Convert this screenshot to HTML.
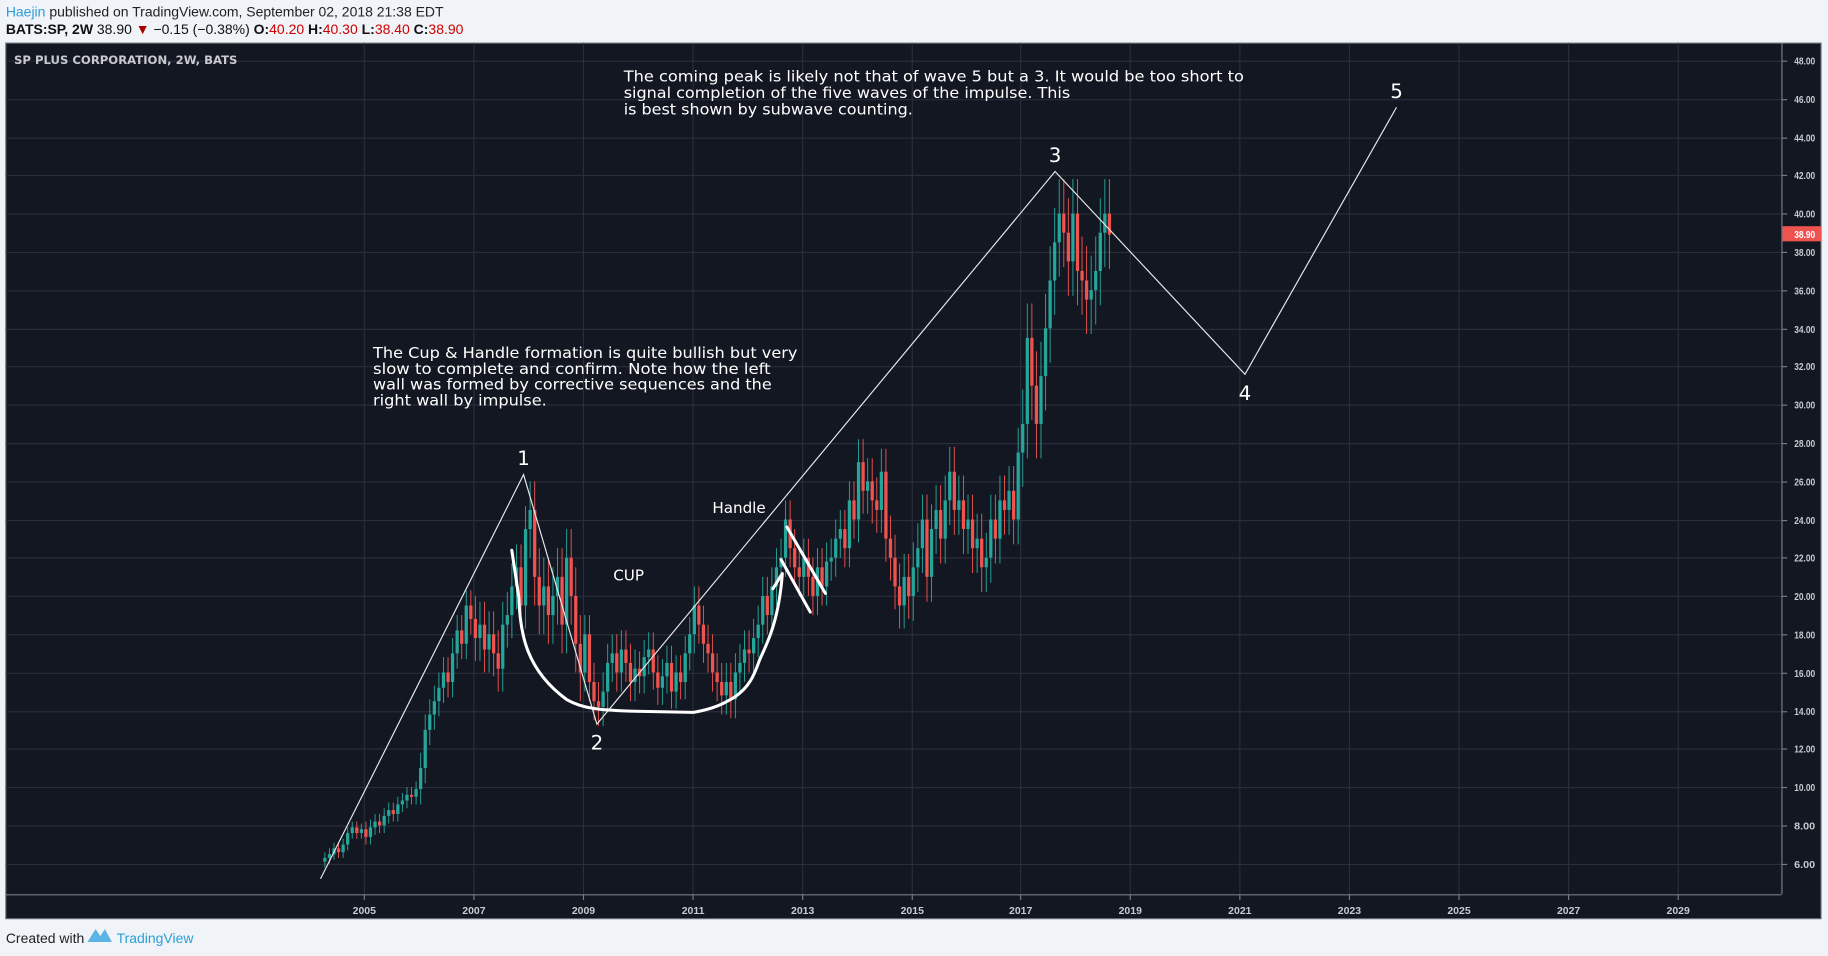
<!DOCTYPE html>
<html><head><meta charset="utf-8">
<style>
html,body{margin:0;padding:0;background:#f0f3f7;overflow:hidden}
svg{display:block}
</style></head>
<body>
<svg id="chart" width="1828" height="956" viewBox="0 0 1568 820" xmlns="http://www.w3.org/2000/svg">
  <rect x="0" y="0" width="1568" height="820" fill="#f0f3f7"/>
  <text x="5" y="14" font-family="Liberation Sans, sans-serif" font-size="12" fill="#222"><tspan fill="#2a9fd8">Haejin</tspan> published on TradingView.com, September 02, 2018 21:38 EDT</text>
  <text x="5" y="29" font-family="Liberation Sans, sans-serif" font-size="12" fill="#111"><tspan font-weight="bold">BATS:SP, 2W</tspan> 38.90 <tspan fill="#a00">▼</tspan> −0.15 (−0.38%) <tspan font-weight="bold">O:</tspan><tspan fill="#c00">40.20</tspan> <tspan font-weight="bold">H:</tspan><tspan fill="#c00">40.30</tspan> <tspan font-weight="bold">L:</tspan><tspan fill="#c00">38.40</tspan> <tspan font-weight="bold">C:</tspan><tspan fill="#c00">38.90</tspan></text>
  <rect x="5" y="37" width="1557" height="751" fill="#131722" stroke="#6a6d78" stroke-width="1"/>
  <g id="grid"></g>
  <g id="candles"></g>
  <g id="annot"></g>
  <line x1="1528.5" y1="37" x2="1528.5" y2="767" stroke="#787b86" stroke-width="1"/>
  <line x1="5" y1="767.5" x2="1528" y2="767.5" stroke="#787b86" stroke-width="1"/>
  <g id="yaxis"></g>
  <g id="xaxis"></g>
  <text x="12" y="55" font-family="DejaVu Sans, sans-serif" font-size="10" font-weight="bold" fill="#c8cad0">SP PLUS CORPORATION, 2W, BATS</text>
  <rect x="1529" y="194" width="33" height="13" fill="#ef5350"/>
  <text x="1539" y="204" textLength="18" lengthAdjust="spacingAndGlyphs" font-family="Liberation Sans, sans-serif" font-size="9" font-weight="bold" fill="#fff">38.90</text>
  <g>
    <text x="5" y="809" font-family="Liberation Sans, sans-serif" font-size="12" fill="#222">Created with</text>
    <path d="M75 808 L82 797 L86 803 L90 797 L96 808 Z" fill="#5ab4e5"/>
    <text x="100" y="809" font-family="Liberation Sans, sans-serif" font-size="12" fill="#2a9fd8">TradingView</text>
  </g>
</svg>
<script>
const closes = [
 6.3,6.5,6.8,6.6,7.0,7.6,7.9,7.6,7.8,
 7.4,7.9,8.2,8.0,8.5,8.8,8.6,9.1,9.3,9.6,9.5,9.9,
 11.0,13.0,13.8,14.5,15.2,16.0,15.5,17.0,18.2,17.5,19.5,18.8,
 17.8,18.5,17.2,18.0,17.0,16.2,18.5,19.0,20.5,21.5,19.5,23.5,
 24.5,21.0,19.5,20.5,19.0,20.0,21.0,18.5,22.0,20.0,17.5,16.0,
 18.0,15.5,14.5,14.2,15.0,16.5,17.0,16.0,17.2,16.5,15.5,16.2,
 15.8,16.8,17.2,16.0,15.2,15.8,16.5,15.0,16.0,15.5,17.0,18.0,
 19.5,18.5,17.5,17.0,16.0,15.5,14.8,15.5,14.6,16.0,16.5,17.2,
 17.0,17.8,18.5,20.0,19.0,20.5,21.5,22.0,24.0,22.5,21.5,21.0,
 22.0,21.0,20.0,21.5,20.5,21.8,22.0,23.0,23.5,22.5,25.0,24.0,
 27.0,25.5,26.0,25.0,24.5,26.5,23.0,22.0,20.5,19.5,21.0,20.0,
 21.5,22.5,24.0,21.0,23.5,24.5,23.0,25.0,26.5,24.5,25.0,23.5,
 24.0,22.5,23.0,21.5,22.0,24.0,23.0,25.0,24.5,25.5,24.0,27.5,
 29.0,33.5,31.0,29.0,31.5,34.0,36.5,38.5,40.0,39.0,37.5,40.0,
 37.0,36.5,35.5,36.0,37.0,39.0,40.0,38.9
];
const startYear = 2004.29;
const wickByYear = [0.3,0.4,0.8,1.2,1.5,1.0,0.9,1.0,1.0,1.0,1.2,1.3,1.3,1.8,1.8];
const priceTicks = [6,8,10,12,14,16,18,20,22,24,26,28,30,32,34,36,38,40,42,44,46,48];
const yearTicks = [2005,2007,2009,2011,2013,2015,2017,2019,2021,2023,2025,2027,2029];
const waveTimes = [2004.21,2007.92,2009.26,2017.63,2021.10,2023.87];
const wavePrices = [5.2,26.35,13.3,42.2,31.6,45.56];
const waveLabels = ["","1","2","3","4","5"];

const NS="http://www.w3.org/2000/svg";
const xs = t => 312 + (t-2005)*46.95;
const ys = p => 52 + (48-p)*16.4;
function mk(tag, attrs, parent){const e=document.createElementNS(NS,tag);for(const k in attrs)e.setAttribute(k,attrs[k]);parent.appendChild(e);return e;}
const grid=document.getElementById('grid'), cg=document.getElementById('candles'), an=document.getElementById('annot');
const ya=document.getElementById('yaxis'), xa=document.getElementById('xaxis');

priceTicks.forEach(p=>{
  const y=Math.round(ys(p))+0.5;
  const l=mk('line',{x1:5,x2:1528,y1:y,y2:y,stroke:'#2a2e3b','stroke-width':1},grid);
  
  
  const tk=mk('line',{x1:1528,x2:1533,y1:y,y2:y,stroke:'#787b86'},ya);
  
  
  const t=mk('text',{x:1539,y:y+3,textLength:18,lengthAdjust:'spacingAndGlyphs','font-family':'Liberation Sans, sans-serif','font-size':9,'font-weight':'bold',fill:'#c8cad0'},ya);
  
  
  t.textContent=p.toFixed(2);
});
yearTicks.forEach(yr=>{
  const x=Math.round(xs(yr))+0.5;
  const l=mk('line',{x1:x,x2:x,y1:37,y2:767,stroke:'#2a2e3b','stroke-width':1},grid);
  
  
  const tk=mk('line',{x1:x,x2:x,y1:767,y2:772,stroke:'#787b86'},xa);
  
  
  const t=mk('text',{x:x,y:784,'text-anchor':'middle','font-family':'Liberation Sans, sans-serif','font-size':9,'font-weight':'bold',fill:'#c8cad0'},xa);
  
  
  t.textContent=yr;
});

closes.forEach((c,i)=>{
  const o = i===0 ? c-0.2 : closes[i-1];
  const t = startYear + i/12;
  const w = wickByYear[Math.min(wickByYear.length-1, Math.floor(t-2004))];
  const hi = Math.max(o,c)+w, lo = Math.min(o,c)-w;
  const col = c>=o ? '#26a69a' : '#ef5350';
  const x = xs(t);
  const g=mk('g',{},cg);
  
  
  mk('line',{x1:x,x2:x,y1:ys(hi),y2:ys(lo),stroke:col,'stroke-width':0.8},g);
  const top=ys(Math.max(o,c)), bot=ys(Math.min(o,c));
  mk('rect',{x:x-1.4,y:top,width:2.8,height:Math.max(1,bot-top),fill:col},g);
});

let d='';
waveTimes.forEach((t,i)=>{d+=(i?'L':'M')+xs(t).toFixed(1)+' '+ys(wavePrices[i]).toFixed(1)+' ';});
const wl=mk('path',{d:d,fill:'none',stroke:'#e8e8e8','stroke-width':1},an);


waveTimes.forEach((t,i)=>{
  if(!waveLabels[i])return;
  const below = (i===2||i===4);
  const tx=mk('text',{x:xs(t),y:ys(wavePrices[i])+(below?22:-8),'text-anchor':'middle','font-family':'DejaVu Sans, sans-serif','font-size':17,fill:'#fff'},an);
  
  
  tx.textContent=waveLabels[i];
});
const cup=mk('path',{d:'M439 472 L445 512 C446 545 452 575 486 600 C500 608 515 609 540 610 L595 611 C612 608 620 604 630 598 C645 588 648 575 652 565 C660 548 668 530 671 493',fill:'none',stroke:'#fff','stroke-width':2.6,'stroke-linecap':'round'},an);


const ah=mk('path',{d:'M663 505 L671 492',fill:'none',stroke:'#fff','stroke-width':2.6,'stroke-linecap':'round'},an);


const h1=mk('line',{x1:670,y1:480,x2:695,y2:525,stroke:'#fff','stroke-width':2.6,'stroke-linecap':'round'},an);


const h2=mk('line',{x1:675,y1:452,x2:708,y2:509,stroke:'#fff','stroke-width':2.6,'stroke-linecap':'round'},an);


</script>
<svg style="position:absolute;left:0;top:0" width="1828" height="956" viewBox="0 0 1568 820" xmlns="http://www.w3.org/2000/svg">
  <g font-family="DejaVu Sans, sans-serif" font-size="13" fill="#fff">
    <text x="526" y="498">CUP</text>
    <text x="611" y="440">Handle</text>
  </g>
  <g font-family="DejaVu Sans, sans-serif" font-size="13" fill="#fff">
    <text x="320" y="307" textLength="364" lengthAdjust="spacingAndGlyphs">The Cup &amp; Handle formation is quite bullish but very</text>
    <text x="320" y="321" textLength="341" lengthAdjust="spacingAndGlyphs">slow to complete and confirm. Note how the left</text>
    <text x="320" y="334" textLength="342" lengthAdjust="spacingAndGlyphs">wall was formed by corrective sequences and the</text>
    <text x="320" y="348" textLength="149" lengthAdjust="spacingAndGlyphs">right wall by impulse.</text>
  </g>
  <g font-family="DejaVu Sans, sans-serif" font-size="13" fill="#fff">
    <text x="535" y="70" textLength="532" lengthAdjust="spacingAndGlyphs">The coming peak is likely not that of wave 5 but a 3. It would be too short to</text>
    <text x="535" y="84" textLength="383" lengthAdjust="spacingAndGlyphs">signal completion of the five waves of the impulse. This</text>
    <text x="535" y="98" textLength="248" lengthAdjust="spacingAndGlyphs">is best shown by subwave counting.</text>
  </g>
</svg>
</body></html>
